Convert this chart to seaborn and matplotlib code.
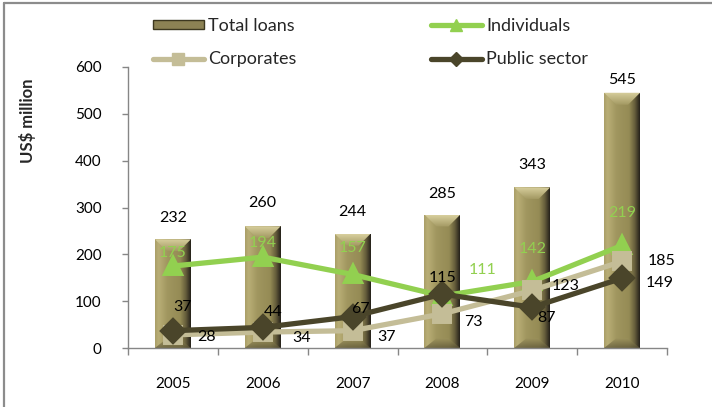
import numpy as np
import pandas as pd
import matplotlib
matplotlib.use("Agg")
import matplotlib.pyplot as plt
import seaborn as sns
from matplotlib.colors import LinearSegmentedColormap
from matplotlib.patches import Patch, Polygon
from matplotlib.lines import Line2D

# ---- data (US$ million) ----
years = ["2005", "2006", "2007", "2008", "2009", "2010"]
total_loans = [232, 260, 244, 285, 343, 545]
individuals = [175, 194, 157, 111, 142, 219]
corporates = [28, 34, 37, 73, 123, 185]
public_sector = [37, 44, 67, 115, 87, 149]

series_names = ["Individuals", "Corporates", "Public sector"]
series_colors = ["#92d050", "#c4bd97", "#4a452a"]
series_markers = ["^", "s", "D"]

# label offsets in pixels (dx, dy) for each series
off_total = [(0, 21), (0, 23), (0, 22), (0, 21), (0, 22), (0, 13)]
off_ind = [(0, 13), (0, 14), (0, 26), (40, 26), (0, 32), (0, 32)]
off_corp = [(34, -2), (39, -6), (34, -6), (31, -8), (33, 4), (39, 0)]
off_pub = [(10, 24), (10, 15), (8, 8), (0, 16), (14, -11), (38, -5)]

sns.set_theme(style="white")
plt.rcParams["font.family"] = ["Lato", "DejaVu Sans"]

W, H = 712, 407
fig = plt.figure(figsize=(W / 100, H / 100), dpi=100)
ax = fig.add_axes([128 / W, 1 - 348 / H, (667 - 128) / W, (348 - 67) / H])

bars_df = pd.DataFrame({"year": years, "value": total_loans})
sns.barplot(data=bars_df, x="year", y="value", color="#9a905a", width=0.4,
            saturation=1, ax=ax, zorder=1, linewidth=0)

lines_df = pd.DataFrame({
    "year": years * 3,
    "value": individuals + corporates + public_sector,
    "series": sum([[n] * len(years) for n in series_names], []),
})
sns.pointplot(data=lines_df, x="year", y="value", hue="series",
              hue_order=series_names, palette=series_colors,
              markers=series_markers, linestyles="-", errorbar=None,
              markersize=11, linewidth=3.8, legend=False, ax=ax, zorder=5)

ax.set_ylim(0, 600)
ax.set_xlim(-0.5, 5.5)

# shading for the bars: horizontal cylinder-like gradient plus bevels
face_cmap = LinearSegmentedColormap.from_list("face", [
    (0.0, "#aa9f68"), (0.1, "#b9ae76"), (0.35, "#a0965f"),
    (0.7, "#958b55"), (0.86, "#655d3b"), (1.0, "#24201a")])
top_cmap = LinearSegmentedColormap.from_list("top", ["#a39962", "#d8cf9e"])
bot_cmap = LinearSegmentedColormap.from_list("bot", ["#9e945e", "#5a5334"])

ax_h_px = (348 - 67)
ax_w_px = (667 - 128)
unit_y = 600 / ax_h_px       # data units per pixel (y)
unit_x = 6 / ax_w_px         # data units per pixel (x)
bev_h = 12 * unit_y
bev_w = 12 * unit_x

grad = np.linspace(0, 1, 256).reshape(1, -1)
vgrad = np.linspace(0, 1, 64).reshape(-1, 1)
for p in list(ax.patches):
    x0, w, h = p.get_x(), p.get_width(), p.get_height()
    im = ax.imshow(grad, cmap=face_cmap, extent=(x0, x0 + w, 0, h),
                   aspect="auto", origin="lower", zorder=1.5)
    im.set_clip_path(p)
    # top bevel
    top = Polygon([(x0, h), (x0 + w, h), (x0 + w - bev_w, h - bev_h),
                   (x0 + bev_w, h - bev_h)], closed=True, facecolor="none",
                  edgecolor="none")
    ax.add_patch(top)
    imt = ax.imshow(vgrad, cmap=top_cmap, extent=(x0, x0 + w, h - bev_h, h),
                    aspect="auto", origin="lower", zorder=1.6)
    imt.set_clip_path(top)
    # bottom bevel
    bot = Polygon([(x0, 0), (x0 + w, 0), (x0 + w - bev_w, bev_h * 0.8),
                   (x0 + bev_w, bev_h * 0.8)], closed=True, facecolor="none",
                  edgecolor="none")
    ax.add_patch(bot)
    imb = ax.imshow(vgrad[::-1], cmap=bot_cmap,
                    extent=(x0, x0 + w, 0, bev_h * 0.8),
                    aspect="auto", origin="lower", zorder=1.6, alpha=0.7)
    imb.set_clip_path(bot)

ax.set_ylim(0, 600)
ax.set_xlim(-0.5, 5.5)

# value labels
lab_fs = 11.5
for i, v in enumerate(total_loans):
    dx, dy = off_total[i]
    ax.annotate(str(v), (i, v), xytext=(dx, dy), textcoords="offset pixels",
                ha="center", va="center", fontsize=lab_fs, color="black",
                zorder=10)
for vals, offs, col in [(individuals, off_ind, "#92d050"),
                        (corporates, off_corp, "black"),
                        (public_sector, off_pub, "black")]:
    for i, v in enumerate(vals):
        dx, dy = offs[i]
        ax.annotate(str(v), (i, v), xytext=(dx, dy),
                    textcoords="offset pixels", ha="center", va="center",
                    fontsize=lab_fs, color=col, zorder=10)

# axes styling
for s in ["top", "right"]:
    ax.spines[s].set_visible(False)
for s in ["left", "bottom"]:
    ax.spines[s].set_color("#868686")
    ax.spines[s].set_linewidth(1.0)
ax.set_yticks(range(0, 601, 100))
ax.tick_params(axis="y", which="major", direction="out", length=4,
               color="#868686", width=1, pad=15, labelsize=11,
               labelcolor="black", left=True)
ax.set_xticks(np.arange(-0.5, 6, 1), minor=True)
ax.tick_params(axis="x", which="minor", direction="out", length=5,
               color="#868686", width=1, bottom=True)
ax.tick_params(axis="x", which="major", length=0, pad=21, labelsize=11,
               labelcolor="black")
ax.set_xlabel("")
ax.set_ylabel("")
fig.text(27 / W, 1 - 121 / H, "US$ million", rotation=90, ha="center",
         va="center", fontsize=12, fontweight="bold")

# legend
handles = [
    Patch(facecolor="#8c8254", edgecolor="#3d3820", linewidth=1),
    Line2D([], [], color=series_colors[1], marker=series_markers[1],
           markersize=8, linewidth=3.8),
    Line2D([], [], color=series_colors[0], marker=series_markers[0],
           markersize=8, linewidth=3.8),
    Line2D([], [], color=series_colors[2], marker=series_markers[2],
           markersize=7, linewidth=3.8),
]
labels = ["Total loans", "Corporates", "Individuals", "Public sector"]
fig.legend(handles, labels, ncol=2, loc="upper left",
           bbox_to_anchor=(153 / W, 1 - 18 / H), frameon=False,
           fontsize=13, handlelength=2.8, handleheight=0.45,
           handletextpad=0.25, columnspacing=7.45, labelspacing=0.95,
           borderaxespad=0, borderpad=0)

# frame lines along the top and left of the figure
fig.add_artist(Line2D([4 / W, 4 / W], [0, 1 - 3 / H], color="#8c8c8c",
                      linewidth=1.6, transform=fig.transFigure))
fig.add_artist(Line2D([4 / W, 1], [1 - 3 / H, 1 - 3 / H], color="#8c8c8c",
                      linewidth=1.6, transform=fig.transFigure))

fig.savefig("out.png", dpi=100, facecolor="white")
